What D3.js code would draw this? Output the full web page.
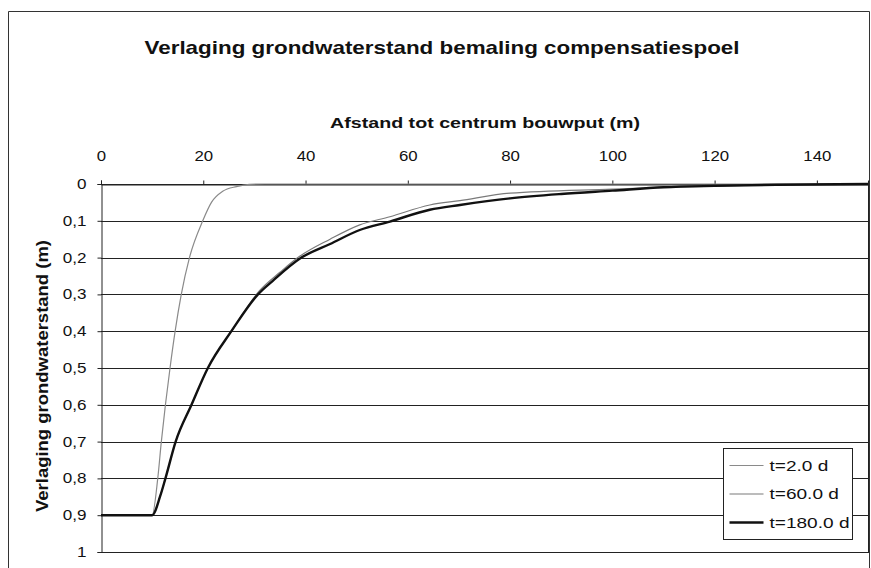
<!DOCTYPE html>
<html>
<head>
<meta charset="utf-8">
<script src="https://cdn.jsdelivr.net/npm/d3@7"></script>
<style>
  html, body { margin: 0; padding: 0; background: #fff; }
  svg { display: block; font-family: "Liberation Sans", Arial, sans-serif; }
</style>
</head>
<body>
<svg id="chart" width="871" height="568"></svg>
<script>
// Drawdown of the groundwater table (m) against distance from the pit centre (m)
const titleText = "Verlaging grondwaterstand bemaling compensatiespoel";
const xTitle = "Afstand tot centrum bouwput (m)";
const yTitle = "Verlaging grondwaterstand (m)";

const xTicks = [0, 20, 40, 60, 80, 100, 120, 140];
const yTicks = [0, 0.1, 0.2, 0.3, 0.4, 0.5, 0.6, 0.7, 0.8, 0.9, 1];

const seriesNames = ["t=2.0 d", "t=60.0 d", "t=180.0 d"];

// t = 2 days
const x2 = [0, 10, 11.1, 11.8, 12.6, 13.5, 14.5, 15.7, 17.3, 19.9, 21.6, 23.8, 26.5, 29, 32, 150];
const s2 = [0.9, 0.9, 0.8, 0.7, 0.6, 0.5, 0.4, 0.3, 0.2, 0.1, 0.05, 0.02, 0.007, 0.001, 0, 0];

// t = 60 days
const x60 = [0, 10, 11.6, 12.6, 14.6, 17.7, 20.9, 25.5, 31, 35, 38.5, 44.8, 50.6, 56.5, 64.3, 70.2, 80, 100, 110, 132, 150];
const s60 = [0.9, 0.9, 0.847, 0.8, 0.7, 0.6, 0.5, 0.4, 0.29, 0.24, 0.2, 0.15, 0.111, 0.089, 0.057, 0.045, 0.025, 0.014, 0.009, 0.002, 0];

// t = 180 days
const x180 = [0, 10, 11.6, 12.6, 14.6, 17.7, 20.9, 25.5, 30.7, 33.6, 39.2, 44.8, 50.6, 56.5, 64.3, 70.2, 80, 90, 100, 110, 120, 132, 150];
const s180 = [0.9, 0.9, 0.847, 0.8, 0.7, 0.6, 0.5, 0.4, 0.3, 0.263, 0.2, 0.163, 0.125, 0.102, 0.07, 0.057, 0.039, 0.027, 0.018, 0.009, 0.005, 0.002, 0];

const W = 871, H = 568;
const plot = { left: 101, top: 184, right: 868, bottom: 552 };

const svg = d3.select("#chart");

// widen glyphs horizontally by a factor (the chart's lettering is set wide)
function widen(sel, f) {
  sel.each(function () {
    const w = this.getComputedTextLength();
    d3.select(this).attr("textLength", w * f).attr("lengthAdjust", "spacingAndGlyphs");
  });
}

// outer chart frame (open at the bottom)
svg.append("path")
  .attr("d", `M8.5,${H + 2} V11.5 H869.5 V${H + 2}`)
  .attr("fill", "none").attr("stroke", "#333").attr("stroke-width", 1);

const x = d3.scaleLinear().domain([0, 150]).range([plot.left, plot.right]);
const y = d3.scaleLinear().domain([0, 1]).range([plot.top, plot.bottom]);

// title
svg.append("text")
  .attr("x", 442).attr("y", 54)
  .attr("text-anchor", "middle")
  .attr("font-size", 19).attr("font-weight", "bold").attr("fill", "#111")
  .attr("textLength", 595).attr("lengthAdjust", "spacingAndGlyphs")
  .text(titleText);

// horizontal gridlines
svg.append("g").selectAll("line").data(yTicks).join("line")
  .attr("x1", plot.left).attr("x2", plot.right)
  .attr("y1", d => Math.round(y(d)) + 0.5).attr("y2", d => Math.round(y(d)) + 0.5)
  .attr("stroke", "#222").attr("stroke-width", 1);

// right edge of plot area
svg.append("line")
  .attr("x1", plot.right + 0.5).attr("x2", plot.right + 0.5)
  .attr("y1", plot.top).attr("y2", plot.bottom + 1)
  .attr("stroke", "#222");

// top x axis
const xAxis = svg.append("g")
  .attr("transform", `translate(0,${plot.top + 0.5})`)
  .call(d3.axisTop(x).tickValues(xTicks).tickSize(4).tickPadding(20).tickFormat(d3.format("d")));
xAxis.select(".domain").attr("stroke", "#222");
xAxis.selectAll(".tick line").attr("stroke", "#222");
xAxis.selectAll("text").attr("font-size", 14).attr("fill", "#111")
  .attr("font-family", "Liberation Sans, Arial, sans-serif");
widen(xAxis.selectAll("text"), 1.2);

// left y axis
const yAxis = svg.append("g")
  .attr("transform", `translate(${plot.left + 0.5},0)`)
  .call(d3.axisLeft(y).tickValues(yTicks).tickSize(4).tickPadding(11)
    .tickFormat(d => d === 0 ? "0" : d === 1 ? "1" : d3.format(".1f")(d).replace(".", ",")));
yAxis.select(".domain").attr("stroke", "#222");
yAxis.selectAll(".tick line").attr("stroke", "#222");
yAxis.selectAll("text").attr("font-size", 14).attr("fill", "#111")
  .attr("font-family", "Liberation Sans, Arial, sans-serif");
widen(yAxis.selectAll("text"), 1.22);

// axis titles
svg.append("text")
  .attr("x", 485).attr("y", 128)
  .attr("text-anchor", "middle")
  .attr("font-size", 15).attr("font-weight", "bold").attr("fill", "#111")
  .attr("textLength", 310).attr("lengthAdjust", "spacingAndGlyphs")
  .text(xTitle);

svg.append("text")
  .attr("transform", "translate(48,376) rotate(-90)")
  .attr("text-anchor", "middle")
  .attr("font-size", 16).attr("font-weight", "bold").attr("fill", "#111")
  .attr("textLength", 272).attr("lengthAdjust", "spacingAndGlyphs")
  .text(yTitle);

// curves
const line = d3.line().x(d => x(d[0])).y(d => y(d[1])).curve(d3.curveMonotoneX);
const series = [
  { xs: x2, ys: s2, color: "#8a8a8a", width: 1.2 },
  { xs: x60, ys: s60, color: "#7a7a7a", width: 1.2 },
  { xs: x180, ys: s180, color: "#111", width: 2.4 }
];
series.forEach(s => {
  svg.append("path")
    .datum(s.xs.map((v, i) => [v, s.ys[i]]))
    .attr("fill", "none")
    .attr("stroke", s.color)
    .attr("stroke-width", s.width)
    .attr("stroke-linejoin", "round")
    .attr("d", line);
});

// legend
const lg = svg.append("g").attr("transform", "translate(723.5,448.5)");
lg.append("rect").attr("width", 129).attr("height", 91)
  .attr("fill", "#fff").attr("stroke", "#222");
seriesNames.forEach((name, i) => {
  const cy = 17 + i * 28.5;
  lg.append("line").attr("x1", 6).attr("x2", 40).attr("y1", cy).attr("y2", cy)
    .attr("stroke", series[i].color).attr("stroke-width", series[i].width);
  const t = lg.append("text").attr("x", 46).attr("y", cy + 5)
    .attr("font-size", 15).attr("fill", "#111").text(name);
  widen(t, 1.27);
});
</script>
</body>
</html>
